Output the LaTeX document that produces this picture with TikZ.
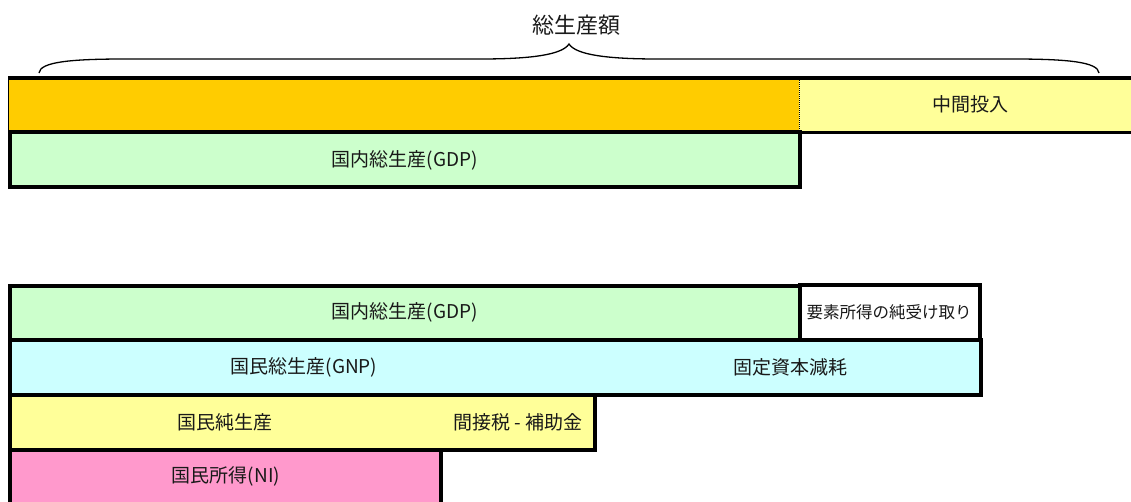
\documentclass[tikz,border=0pt]{standalone}
\usepackage{fontspec}
\newfontfamily\jp{Noto Sans CJK JP}
\definecolor{corange}{HTML}{FFCC00}
\definecolor{cyellow}{HTML}{FFFF99}
\definecolor{cgreen}{HTML}{CCFFCC}
\definecolor{ccyan}{HTML}{CCFFFF}
\definecolor{cpink}{HTML}{FF99CC}
\begin{document}
\begin{tikzpicture}[x=1pt,y=-1pt,
  box/.style={draw=black, line width=4pt, inner sep=0pt, rectangle},
  plain/.style={inner sep=0pt, rectangle},
  lbl/.style={inner sep=0pt, font=\jp\fontsize{19}{19}\selectfont, text=black!90},
  small/.style={inner sep=0pt, font=\jp\fontsize{16.5}{16.5}\selectfont, text=black!90},
  title/.style={inner sep=0pt, font=\jp\fontsize{22}{22}\selectfont, text=black!90}]
\useasboundingbox (0,0) rectangle (1131,501);
% top row
\node[plain, fill=corange, minimum width=791pt, minimum height=54pt, anchor=north west] (inter) at (8,78) {};
\node[plain, fill=cyellow, minimum width=340pt, minimum height=54pt, anchor=north west] (mid) at (799,78) {};
\draw[line width=1pt] (inter.north west) -- (inter.south west);
\draw[line width=3.5pt] (inter.north west) -- (mid.north east);
\draw[line width=3.5pt] (inter.south west) -- (mid.south east);
\draw[line width=1.5pt, dash pattern=on 1pt off 1pt] (inter.north east) -- (inter.south east);
\node[lbl] (midt) at (970,104) {中間投入};
% GDP top
\node[box, fill=cgreen, minimum width=790pt, minimum height=55pt] (gdp1) at (405,159.5) {};
\node[lbl] (gdp1t) at (405,160) {国内総生産(GDP)};
% brace and title
\coordinate (bl) at (39,73);
\coordinate (bt) at (569,44);
\coordinate (br) at (1099,73);
\draw[line width=1.3pt] (bl) .. controls (40,62) and (70,59) .. (125,59) -- (480,59)
  .. controls (530,59) and (562,55) .. (bt)
  .. controls (576,55) and (608,59) .. (658,59) -- (1013,59)
  .. controls (1068,59) and (1098,62) .. (br);
\node[title] (tt) at (576,25) {総生産額};
% lower section
\node[box, fill=cgreen, minimum width=790pt, minimum height=54pt] (gdp2) at (405,313) {};
\node[box, fill=white, minimum width=180pt, minimum height=55pt] (nfi) at (890,312.5) {};
\node[box, fill=ccyan, minimum width=971pt, minimum height=55pt] (gnp) at (495.5,367.5) {};
\node[box, fill=cyellow, minimum width=585pt, minimum height=55pt] (nnp) at (302.5,422.5) {};
\node[box, fill=cpink, minimum width=431pt, minimum height=57pt] (ni) at (225.5,478.5) {};
\node[lbl] (gdp2t) at (405,312) {国内総生産(GDP)};
\node[small] (nfit) at (889,312) {要素所得の純受け取り};
\node[lbl] (gnpt) at (304,367) {国民総生産(GNP)};
\node[lbl] (dept) at (790,367) {固定資本減耗};
\node[lbl] (nnpt) at (225,422) {国民純生産};
\node[lbl] (taxt) at (518,422) {間接税 - 補助金};
\node[lbl] (nit) at (226,476) {国民所得(NI)};
\end{tikzpicture}
\end{document}
